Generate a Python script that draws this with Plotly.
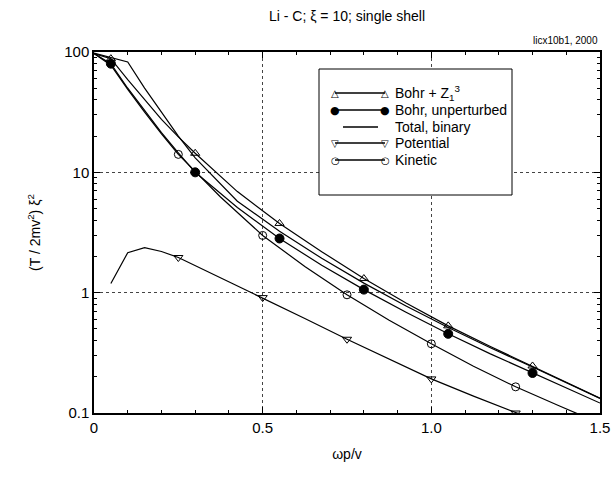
import plotly.graph_objects as go

# ---------------- data ----------------
bohr_x = [0, 0.05, 0.1, 0.15, 0.2, 0.25, 0.3, 0.425, 0.55, 0.675, 0.8, 0.925, 1.05, 1.175, 1.3, 1.4, 1.5]
bohr_z3 = [97, 88, 58.9, 39.8, 27.5, 19.7, 14.4, 6.92, 3.76, 2.19, 1.31, 0.82, 0.53, 0.357, 0.246, 0.18, 0.133]
bohr_unp = [97, 80, 50, 32.4, 21.4, 14.5, 10, 5.1, 2.82, 1.69, 1.06, 0.687, 0.455, 0.31, 0.215, 0.16, 0.121]
bohr_marker_x = [0.05, 0.3, 0.55, 0.8, 1.05, 1.3]

total_x = [0, 0.1, 0.15, 0.2, 0.25, 0.3, 0.425, 0.55, 0.675, 0.8, 0.925, 1.05, 1.175, 1.3, 1.4, 1.5]
total = [98, 82.6, 50.1, 31.6, 20.0, 13.2, 5.75, 3.24, 1.93, 1.2, 0.776, 0.513, 0.348, 0.241, 0.178, 0.132]

kin_x = [0, 0.05, 0.1, 0.15, 0.2, 0.25, 0.375, 0.5, 0.625, 0.75, 0.875, 1.0, 1.125, 1.25, 1.375, 1.5]
kinetic = [97, 77.6, 49, 31.6, 20.9, 14.1, 6.24, 2.99, 1.65, 0.96, 0.59, 0.376, 0.245, 0.165, 0.116, 0.082]

pot_x = [0.05, 0.1, 0.15, 0.2, 0.25, 0.375, 0.5, 0.625, 0.75, 0.875, 1.0, 1.125, 1.25, 1.375, 1.5]
potential = [1.19, 2.15, 2.37, 2.2, 1.96, 1.33, 0.91, 0.61, 0.41, 0.279, 0.192, 0.138, 0.1, 0.073, 0.054]
kp_marker_x = [0.25, 0.5, 0.75, 1.0, 1.25]

series_names = ["Bohr + Z<sub>1</sub><sup>3</sup>", "Bohr, unperturbed", "Total, binary",
                "Potential", "Kinetic"]

x_tickvals = [0, 0.5, 1.0, 1.5]
x_ticktext = ["0", "0.5", "1.0", "1.5"]
y_tickvals = [0.1, 1, 10, 100]
y_ticktext = ["0.1", "1", "10", "100"]

# ---------------- styling ----------------
series = [
    # x, y, marker x positions, plotly symbol, marker size, legend glyph, glyph size
    (bohr_x, bohr_z3, bohr_marker_x, "triangle-up-open", 8, "△", 10),
    (bohr_x, bohr_unp, bohr_marker_x, "circle", 9, "●", 11),
    (total_x, total, [], None, 0, "", 0),
    (pot_x, potential, kp_marker_x, "triangle-down-open", 8, "▽", 10),
    (kin_x, kinetic, kp_marker_x, "circle-open", 8, "○", 10),
]

FONT = "Liberation Sans, Arial, sans-serif"
PL, PR, PT, PB = 94, 600, 52, 413  # plot area in pixels


def px_x(p):
    return (p - PL) / (PR - PL)


def px_y(p):
    return (PB - p) / (PB - PT)


fig = go.Figure()

for xs, ys, mx, sym, ms, glyph, gs in series:
    fig.add_trace(go.Scatter(x=xs, y=ys, mode="lines", line=dict(color="black", width=1.2),
                             showlegend=False, hoverinfo="skip"))
    if mx:
        my = [ys[xs.index(v)] for v in mx]
        fig.add_trace(go.Scatter(x=mx, y=my, mode="markers",
                                 marker=dict(symbol=sym, size=ms, color="black",
                                             line=dict(color="black", width=1)),
                                 showlegend=False, hoverinfo="skip"))

# ---------------- hand-built legend (box, sample lines, glyphs, labels) ----------------
shapes = [dict(type="rect", xref="paper", yref="paper",
               x0=px_x(319), x1=px_x(512), y0=px_y(195), y1=px_y(69),
               line=dict(color="black", width=1), fillcolor="white", layer="above")]
annotations = []
row_y = [93, 110, 127, 143, 160]
for (xs, ys, mx, sym, ms, glyph, gs), name, ry in zip(series, series_names, row_y):
    if glyph:
        x0, x1 = 335, 385
    else:
        x0, x1 = 343, 378
    shapes.append(dict(type="line", xref="paper", yref="paper",
                       x0=px_x(x0), x1=px_x(x1), y0=px_y(ry), y1=px_y(ry),
                       line=dict(color="black", width=1.3 if glyph else 1.6), layer="above"))
    if glyph:
        for gx in (x0, x1):
            annotations.append(dict(text=glyph, xref="paper", yref="paper", x=px_x(gx), y=px_y(ry),
                                    xanchor="center", yanchor="middle", showarrow=False,
                                    font=dict(family="DejaVu Sans", size=gs, color="black")))
    annotations.append(dict(text=name, xref="paper", yref="paper", x=px_x(393), y=px_y(ry),
                            xanchor="left", yanchor="middle", showarrow=False,
                            font=dict(family=FONT, size=14, color="black")))

annotations.append(dict(text="licx10b1, 2000", xref="paper", yref="paper", x=1.0, y=px_y(40),
                        xanchor="right", yanchor="middle", showarrow=False,
                        font=dict(family=FONT, size=10)))

fig.update_layout(
    width=612, height=484,
    margin=dict(l=PL, r=612 - PR, t=PT, b=484 - PB),
    paper_bgcolor="white", plot_bgcolor="white",
    font=dict(family=FONT, size=14, color="black"),
    title=dict(text="Li - C; ξ = 10; single shell", x=347 / 612, xanchor="center",
               y=1 - 16 / 484, yanchor="middle", font=dict(size=14)),
    showlegend=False,
    shapes=shapes,
    annotations=annotations,
)

fig.update_xaxes(
    range=[0, 1.5], tickvals=x_tickvals, ticktext=x_ticktext,
    ticks="inside", ticklen=6, tickwidth=1, tickcolor="black",
    showline=True, linecolor="black", linewidth=1.5, mirror="ticks",
    showgrid=True, gridcolor="#444", griddash="dot", gridwidth=1, zeroline=False,
    minor=dict(ticks="inside", ticklen=3, dtick=0.1, tickcolor="black", showgrid=False),
    title=dict(text="ωp/v", standoff=14, font=dict(size=14)),
    tickfont=dict(size=15), automargin=False,
)
fig.update_yaxes(
    type="log", range=[-1, 2], tickvals=y_tickvals, ticktext=y_ticktext,
    ticks="inside", ticklen=6, tickwidth=1, tickcolor="black",
    showline=True, linecolor="black", linewidth=1.5, mirror="ticks",
    showgrid=True, gridcolor="#444", griddash="dot", gridwidth=1, zeroline=False,
    minor=dict(ticks="inside", ticklen=3, dtick="D1", tickcolor="black", showgrid=False),
    title=dict(text="(T / 2mv<sup>2</sup>) ξ<sup>2</sup>", standoff=20, font=dict(size=14)),
    tickfont=dict(size=15), automargin=False,
)

fig.write_html("out.html", config={"displayModeBar": False},
               post_script="document.body.style.margin='0px';")
